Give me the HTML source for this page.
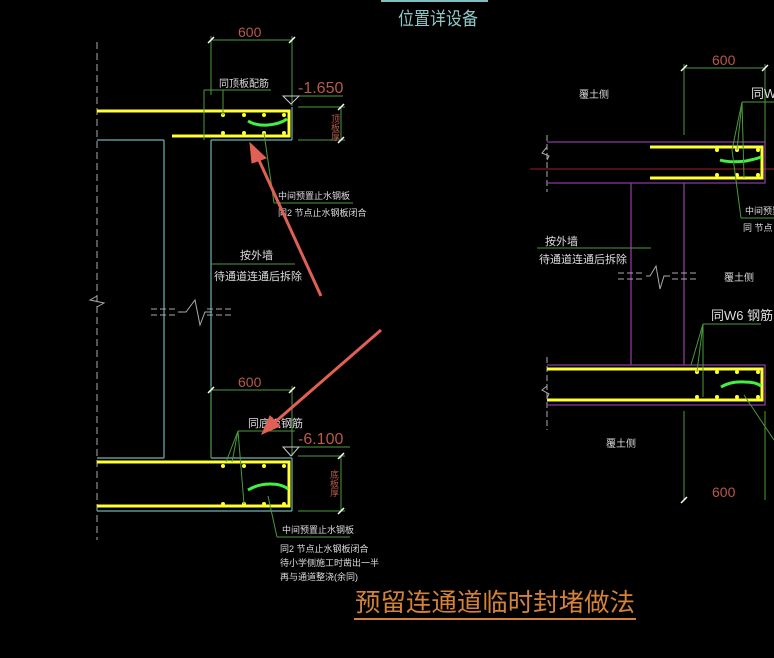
<!DOCTYPE html>
<html><head><meta charset="utf-8"><style>
html,body{margin:0;padding:0;background:#000;}
svg{display:block}
text{font-family:"Liberation Sans","Noto Sans CJK SC",sans-serif;}
</style></head><body>
<svg width="774" height="658" viewBox="0 0 774 658" xmlns="http://www.w3.org/2000/svg">
<rect width="774" height="658" fill="#000"/>
<line x1="381" y1="1" x2="488" y2="1" stroke="#7fbfbf" stroke-width="2"/>
<text x="398" y="25" font-size="18" fill="#8ec8c8" textLength="80" lengthAdjust="spacingAndGlyphs">位置详设备</text>

<line x1="97" y1="42" x2="97" y2="540" stroke="#aaa" stroke-width="1" stroke-dasharray="7,4"/>
<polyline points="97,296 90,300 104,303 97,307" fill="none" stroke="#aaa" stroke-width="1"/>

<g stroke="#6fb3b3" stroke-width="1.2" fill="none">
<line x1="97" y1="140" x2="164" y2="140"/>
<line x1="164" y1="140" x2="164" y2="458"/>
<line x1="97" y1="458" x2="164" y2="458"/>
<line x1="211" y1="140" x2="292" y2="140"/>
<line x1="211" y1="140" x2="211" y2="458"/>
<line x1="211" y1="458" x2="292" y2="458"/>
<line x1="292" y1="107" x2="292" y2="140"/>
<line x1="292" y1="458" x2="292" y2="511"/>
<line x1="97" y1="511" x2="292" y2="511"/>
</g>
<g stroke="#aaa" stroke-width="1" fill="none">
<line x1="151" y1="309" x2="175" y2="309" stroke-dasharray="6,3"/>
<line x1="151" y1="315" x2="175" y2="315" stroke-dasharray="6,3"/>
<line x1="207" y1="309" x2="232" y2="309" stroke-dasharray="6,3"/>
<line x1="207" y1="315" x2="232" y2="315" stroke-dasharray="6,3"/>
<polyline points="178,312 186,312 195,300 200,325 205,312 212,312"/>
</g>

<g stroke="#ffff33" stroke-width="3" fill="none">
<polyline points="97,111 289,111 289,136 172,136"/>
</g>
<g fill="#ffff33">
<circle cx="223" cy="115" r="2"/><circle cx="244" cy="115" r="2"/><circle cx="264" cy="115" r="2"/><circle cx="284" cy="115" r="2"/>
<circle cx="223" cy="133" r="2"/><circle cx="244" cy="133" r="2"/><circle cx="264" cy="133" r="2"/><circle cx="284" cy="133" r="2"/>
</g>
<path d="M248,121 Q256,126 268,125 Q280,124 287,119" stroke="#44ee44" stroke-width="3" fill="none"/>
<g stroke="#4a9a3a" stroke-width="1" fill="none">
<line x1="211" y1="40" x2="292" y2="40"/>
<line x1="211" y1="36" x2="211" y2="95"/>
<line x1="292" y1="36" x2="292" y2="106"/>
<line x1="204" y1="90" x2="271" y2="90"/>
<line x1="204" y1="90" x2="204" y2="140"/>
<line x1="223" y1="90" x2="223" y2="115"/>
<line x1="264" y1="133" x2="274" y2="203"/>
<line x1="274" y1="203" x2="353" y2="203"/>
<line x1="298" y1="96" x2="343" y2="96"/>
<line x1="298" y1="107" x2="345" y2="107"/>
<line x1="298" y1="140" x2="345" y2="140"/>
<line x1="341" y1="107" x2="341" y2="140"/>
<line x1="211" y1="264" x2="295" y2="264"/>
</g>
<g stroke="#fff" stroke-width="1.5">
<line x1="208" y1="43" x2="214" y2="37"/><line x1="289" y1="43" x2="295" y2="37"/>
<line x1="338" y1="110" x2="344" y2="104"/><line x1="338" y1="143" x2="344" y2="137"/>
</g>
<polygon points="283,96 299,96 291,104" fill="none" stroke="#ccc" stroke-width="1"/>
<text x="238" y="37" font-size="14" fill="#b85a4a">600</text>
<text x="298" y="93" font-size="16" fill="#b85a4a">-1.650</text>
<text x="335" y="114" font-size="9" fill="#b85a4a" writing-mode="tb">顶板厚</text>
<text x="219" y="87" font-size="10" fill="#ddd">同顶板配筋</text>
<text x="278" y="199" font-size="9" fill="#ddd">中间预置止水钢板</text>
<text x="278" y="216" font-size="9" fill="#ddd">同2 节点止水钢板闭合</text>
<text x="240" y="259" font-size="11" fill="#ddd">按外墙</text>
<text x="214" y="280" font-size="11" fill="#ddd">待通道连通后拆除</text>

<g stroke="#ffff33" stroke-width="3" fill="none">
<polyline points="97,462 289,462 289,506 97,506"/>
</g>
<g fill="#ffff33">
<circle cx="223" cy="466" r="2"/><circle cx="244" cy="466" r="2"/><circle cx="264" cy="466" r="2"/><circle cx="284" cy="466" r="2"/>
<circle cx="223" cy="504" r="2"/><circle cx="244" cy="504" r="2"/><circle cx="264" cy="504" r="2"/><circle cx="284" cy="504" r="2"/>
</g>
<path d="M248,490 Q258,484 270,484 Q282,484 288,489" stroke="#44ee44" stroke-width="3" fill="none"/>
<g stroke="#4a9a3a" stroke-width="1" fill="none">
<line x1="211" y1="390" x2="292" y2="390"/>
<line x1="211" y1="386" x2="211" y2="458"/>
<line x1="292" y1="386" x2="292" y2="456"/>
<line x1="238" y1="431" x2="295" y2="431"/>
<line x1="238" y1="431" x2="226" y2="462"/>
<line x1="238" y1="431" x2="232" y2="462"/>
<line x1="238" y1="431" x2="244" y2="504"/>
<line x1="268" y1="496" x2="277" y2="537"/>
<line x1="277" y1="537" x2="350" y2="537"/>
<line x1="298" y1="447" x2="350" y2="447"/>
<line x1="298" y1="456" x2="345" y2="456"/>
<line x1="298" y1="511" x2="345" y2="511"/>
<line x1="341" y1="456" x2="341" y2="511"/>
</g>
<g stroke="#fff" stroke-width="1.5">
<line x1="208" y1="393" x2="214" y2="387"/><line x1="289" y1="393" x2="295" y2="387"/>
<line x1="338" y1="459" x2="344" y2="453"/><line x1="338" y1="514" x2="344" y2="508"/>
</g>
<polygon points="283,447 299,447 291,456" fill="none" stroke="#ccc" stroke-width="1"/>
<text x="238" y="387" font-size="14" fill="#b85a4a">600</text>
<text x="298" y="444" font-size="16" fill="#b85a4a">-6.100</text>
<text x="334" y="470" font-size="9" fill="#b85a4a" writing-mode="tb">底板厚</text>
<text x="248" y="427" font-size="11" fill="#ddd">同底板钢筋</text>
<text x="282" y="533" font-size="9" fill="#ddd">中间预置止水钢板</text>
<text x="280" y="552" font-size="9" fill="#ddd">同2 节点止水钢板闭合</text>
<text x="280" y="566" font-size="9" fill="#ddd">待小学侧施工时凿出一半</text>
<text x="280" y="580" font-size="9" fill="#ddd">再与通道整浇(余同)</text>

<g stroke="#e06055" stroke-width="3" fill="#e06055">
<line x1="321" y1="296" x2="258" y2="158"/>
<polygon points="250,143 266,158 252,163" stroke-width="1"/>
<line x1="381" y1="330" x2="274" y2="423"/>
<polygon points="262,434 270,416 280,426" stroke-width="1"/>
</g>

<line x1="530" y1="169" x2="774" y2="169" stroke="#a02020" stroke-width="1"/>
<line x1="547" y1="135" x2="547" y2="192" stroke="#aaa" stroke-dasharray="6,3"/>
<line x1="547" y1="357" x2="547" y2="430" stroke="#aaa" stroke-dasharray="6,3"/>
<g stroke="#8a3a9a" stroke-width="1.3" fill="none">
<polyline points="547,142 765,142 765,183 547,183"/>
<polyline points="547,365 765,365 765,405 547,405"/>
<line x1="631" y1="183" x2="631" y2="365"/>
<line x1="684" y1="183" x2="684" y2="365"/>
</g>
<g stroke="#ffff33" stroke-width="3" fill="none">
<polyline points="650,147 762,147 762,178 650,178"/>
<polyline points="547,369 762,369 762,400 547,400"/>
</g>
<g fill="#ffff33">
<circle cx="717" cy="150" r="2"/><circle cx="737" cy="150" r="2"/><circle cx="758" cy="150" r="2"/>
<circle cx="717" cy="175" r="2"/><circle cx="737" cy="175" r="2"/><circle cx="758" cy="175" r="2"/>
<circle cx="697" cy="372" r="2"/><circle cx="717" cy="372" r="2"/><circle cx="737" cy="372" r="2"/><circle cx="758" cy="372" r="2"/>
<circle cx="697" cy="397" r="2"/><circle cx="717" cy="397" r="2"/><circle cx="737" cy="397" r="2"/><circle cx="758" cy="397" r="2"/>
</g>
<path d="M720,160 Q730,163 746,161 Q756,159 761,157" stroke="#44ee44" stroke-width="3" fill="none"/>
<path d="M721,387 Q731,381 745,382 Q756,382 761,386" stroke="#44ee44" stroke-width="3" fill="none"/>
<g stroke="#4a9a3a" stroke-width="1" fill="none">
<line x1="684" y1="68" x2="765" y2="68"/>
<line x1="684" y1="64" x2="684" y2="135"/>
<line x1="765" y1="64" x2="765" y2="142"/>
<line x1="742" y1="102" x2="774" y2="102"/>
<line x1="742" y1="102" x2="732" y2="150"/>
<line x1="742" y1="102" x2="737" y2="150"/>
<line x1="742" y1="102" x2="744" y2="178"/>
<line x1="732" y1="150" x2="741" y2="218"/>
<line x1="741" y1="218" x2="774" y2="218"/>
<line x1="537" y1="248" x2="651" y2="248"/>
<line x1="703" y1="324" x2="761" y2="324"/>
<line x1="703" y1="324" x2="691" y2="365"/>
<line x1="703" y1="324" x2="697" y2="372"/>
<line x1="703" y1="324" x2="703" y2="397"/>
<line x1="744" y1="395" x2="774" y2="440"/>
<line x1="684" y1="411" x2="684" y2="500"/>
<line x1="765" y1="411" x2="765" y2="500"/>
</g>
<g stroke="#fff" stroke-width="1.5">
<line x1="681" y1="71" x2="687" y2="65"/><line x1="762" y1="71" x2="768" y2="65"/>
<line x1="681" y1="503" x2="687" y2="497"/>
</g>
<g stroke="#aaa" stroke-width="1" fill="none">
<polyline points="547,147 542,153 549,156 547,160"/>
<polyline points="547,386 542,390 549,394 547,398"/>
<line x1="618" y1="273" x2="645" y2="273" stroke-dasharray="6,3"/>
<line x1="618" y1="279" x2="645" y2="279" stroke-dasharray="6,3"/>
<line x1="672" y1="273" x2="698" y2="273" stroke-dasharray="6,3"/>
<line x1="672" y1="279" x2="698" y2="279" stroke-dasharray="6,3"/>
<polyline points="646,276 650,276 656,266 660,289 664,276 670,276"/>
</g>
<text x="712" y="65" font-size="14" fill="#b85a4a">600</text>
<text x="712" y="497" font-size="14" fill="#b85a4a">600</text>
<text x="579" y="98" font-size="10" fill="#ddd">覆土侧</text>
<text x="751" y="98" font-size="13" fill="#ddd">同W6</text>
<text x="745" y="214" font-size="9" fill="#ddd">中间预置</text>
<text x="743" y="231" font-size="9" fill="#ddd">同 节点</text>
<text x="545" y="245" font-size="11" fill="#ddd">按外墙</text>
<text x="539" y="263" font-size="11" fill="#ddd">待通道连通后拆除</text>
<text x="724" y="281" font-size="10" fill="#ddd">覆土侧</text>
<text x="711" y="320" font-size="13" fill="#ddd">同W6 钢筋</text>
<text x="606" y="447" font-size="10" fill="#ddd">覆土侧</text>

<text x="355" y="611" font-size="25" fill="#d4823a" textLength="280" lengthAdjust="spacingAndGlyphs">预留连通道临时封堵做法</text>
<line x1="354" y1="619" x2="636" y2="619" stroke="#d4823a" stroke-width="2"/>
</svg>
</body></html>
